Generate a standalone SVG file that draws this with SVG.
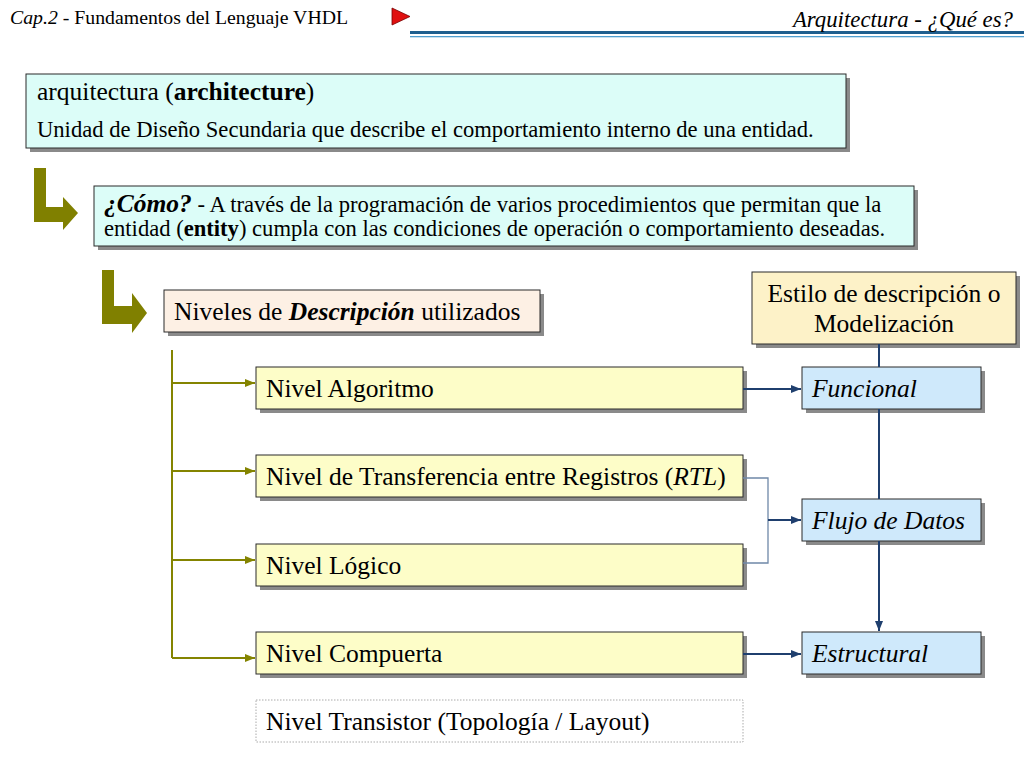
<svg xmlns="http://www.w3.org/2000/svg" width="1024" height="768" viewBox="0 0 1024 768" font-family="Liberation Serif, DejaVu Serif, serif">
<defs>
<style>
text{font-family:'Liberation Serif','DejaVu Serif',serif;fill:#000}
.sh{fill:#8a8a8a}
.box{stroke:#2a2a2a;stroke-width:1}
.cyan{fill:#dcfdf8}
.peach{fill:#fdf0e4}
.ylw{fill:#fdf2c8}
.lvl{fill:#fdfdc8}
.blu{fill:#cfe9fb}
.t20{font-size:25.5px}
.t18{font-size:22.6px}
.it{font-style:italic}
.b{font-weight:bold}
.olive{stroke:#848400;stroke-width:2;fill:none}
.navy{stroke:#1f3f6e;stroke-width:2;fill:none}
.grey{stroke:#6f88a8;stroke-width:1.3;fill:none}
</style>
<marker id="ao" viewBox="0 0 10 10" refX="10" refY="5" markerWidth="5" markerHeight="5" orient="auto" markerUnits="strokeWidth"><path d="M0,1 L10,5 L0,9 z" fill="#848400"/></marker>
<marker id="an" viewBox="0 0 10 10" refX="10" refY="5" markerWidth="5" markerHeight="5" orient="auto" markerUnits="strokeWidth"><path d="M0,1 L10,5 L0,9 z" fill="#1f3f6e"/></marker>
</defs>
<rect width="1024" height="768" fill="#fff"/>

<g id="header">
<text x="10" y="24" font-size="19.8"><tspan class="it">Cap.2</tspan> - Fundamentos del Lenguaje VHDL</text>
<polygon points="392,8 410,16.5 392,25" fill="#e01010" stroke="#700" stroke-width="0.8"/>
<rect x="410" y="31" width="614" height="3" fill="#1f5f8f"/>
<rect x="410" y="36" width="614" height="1.3" fill="#4f9fd0"/>
<text x="1013" y="27" class="it" font-size="22.8" text-anchor="end">Arquitectura - ¿Qué es?</text>
</g>

<g id="arquitectura">
<rect x="30" y="78" width="820" height="74" class="sh"/>
<rect x="26" y="74" width="820" height="74" class="box cyan"/>
<text x="37" y="100" class="t20">arquitectura (<tspan class="b">architecture</tspan>)</text>
<text x="37" y="137" class="t18">Unidad de Diseño Secundaria que describe el comportamiento interno de una entidad.</text>
</g>

<g id="arrow1">
<polygon points="34,168 46,168 46,207 63,207 63,197 78,213 63,230 63,222 34,222" fill="#808000"/>
</g>

<g id="como">
<rect x="98" y="190" width="820" height="60" class="sh"/>
<rect x="94" y="186" width="820" height="60" class="box cyan"/>
<text x="104" y="212" class="t18"><tspan class="b it" font-size="25.5">¿Cómo?</tspan> - A través de la programación de varios procedimientos que permitan que la</text>
<text x="104" y="236" class="t18">entidad (<tspan class="b">entity</tspan>) cumpla con las condiciones de operación o comportamiento deseadas.</text>
</g>

<g id="arrow2">
<polygon points="102,270 114,270 114,306 132,306 132,293 147,313 132,333 132,324 102,324" fill="#808000"/>
</g>

<g id="niveles">
<rect x="168" y="294" width="376" height="42" class="sh"/>
<rect x="164" y="290" width="376" height="42" class="box peach"/>
<text x="174" y="320" class="t20">Niveles de <tspan class="b it">Descripción</tspan> utilizados</text>
</g>

<g id="estilo">
<rect x="756" y="276" width="264" height="72" class="sh"/>
<rect x="752" y="272" width="264" height="72" class="box ylw"/>
<text x="884" y="302" class="t20" text-anchor="middle">Estilo de descripción o</text>
<text x="884" y="332" class="t20" text-anchor="middle">Modelización</text>
</g>

<g id="algoritmo">
<rect x="260" y="371" width="487" height="42" class="sh"/>
<rect x="256" y="367" width="487" height="42" class="box lvl"/>
<text x="266" y="397" class="t20">Nivel Algoritmo</text>
</g>

<g id="rtl">
<rect x="260" y="459" width="487" height="42" class="sh"/>
<rect x="256" y="455" width="487" height="42" class="box lvl"/>
<text x="266" y="485" class="t20">Nivel de Transferencia entre Registros (<tspan class="it">RTL</tspan>)</text>
</g>

<g id="logico">
<rect x="260" y="548" width="487" height="42" class="sh"/>
<rect x="256" y="544" width="487" height="42" class="box lvl"/>
<text x="266" y="574" class="t20">Nivel Lógico</text>
</g>

<g id="compuerta">
<rect x="260" y="636" width="487" height="42" class="sh"/>
<rect x="256" y="632" width="487" height="42" class="box lvl"/>
<text x="266" y="662" class="t20">Nivel Compuerta</text>
</g>

<g id="transistor">
<rect x="256" y="700" width="487" height="42" fill="#fff" stroke="#aaa" stroke-width="1" stroke-dasharray="1.5,1.5"/>
<text x="266" y="730" class="t20">Nivel Transistor (Topología / Layout)</text>
</g>

<g id="funcional">
<rect x="806" y="371" width="179" height="42" class="sh"/>
<rect x="802" y="367" width="179" height="42" class="box blu"/>
<text x="812" y="397" class="t20 it">Funcional</text>
</g>

<g id="flujo">
<rect x="806" y="503" width="179" height="42" class="sh"/>
<rect x="802" y="499" width="179" height="42" class="box blu"/>
<text x="812" y="529" class="t20 it">Flujo de Datos</text>
</g>

<g id="estructural">
<rect x="806" y="636" width="179" height="42" class="sh"/>
<rect x="802" y="632" width="179" height="42" class="box blu"/>
<text x="812" y="662" class="t20 it">Estructural</text>
</g>

<g id="connectors">
<path d="M172,350 V658" class="olive"/>
<path d="M172,383 H255" class="olive" marker-end="url(#ao)"/>
<path d="M172,471 H255" class="olive" marker-end="url(#ao)"/>
<path d="M172,560 H255" class="olive" marker-end="url(#ao)"/>
<path d="M172,658 H255" class="olive" marker-end="url(#ao)"/>
<path d="M743,389 H801" class="navy" marker-end="url(#an)"/>
<path d="M743,654 H801" class="navy" marker-end="url(#an)"/>
<path d="M743,478 H768 V563 H743" class="grey"/>
<path d="M768,520 H801" class="navy" marker-end="url(#an)"/>
<path d="M879,344 V367" class="navy"/>
<path d="M879,409 V499" class="navy"/>
<path d="M879,541 V631" class="navy" marker-end="url(#an)"/>
</g>
</svg>
